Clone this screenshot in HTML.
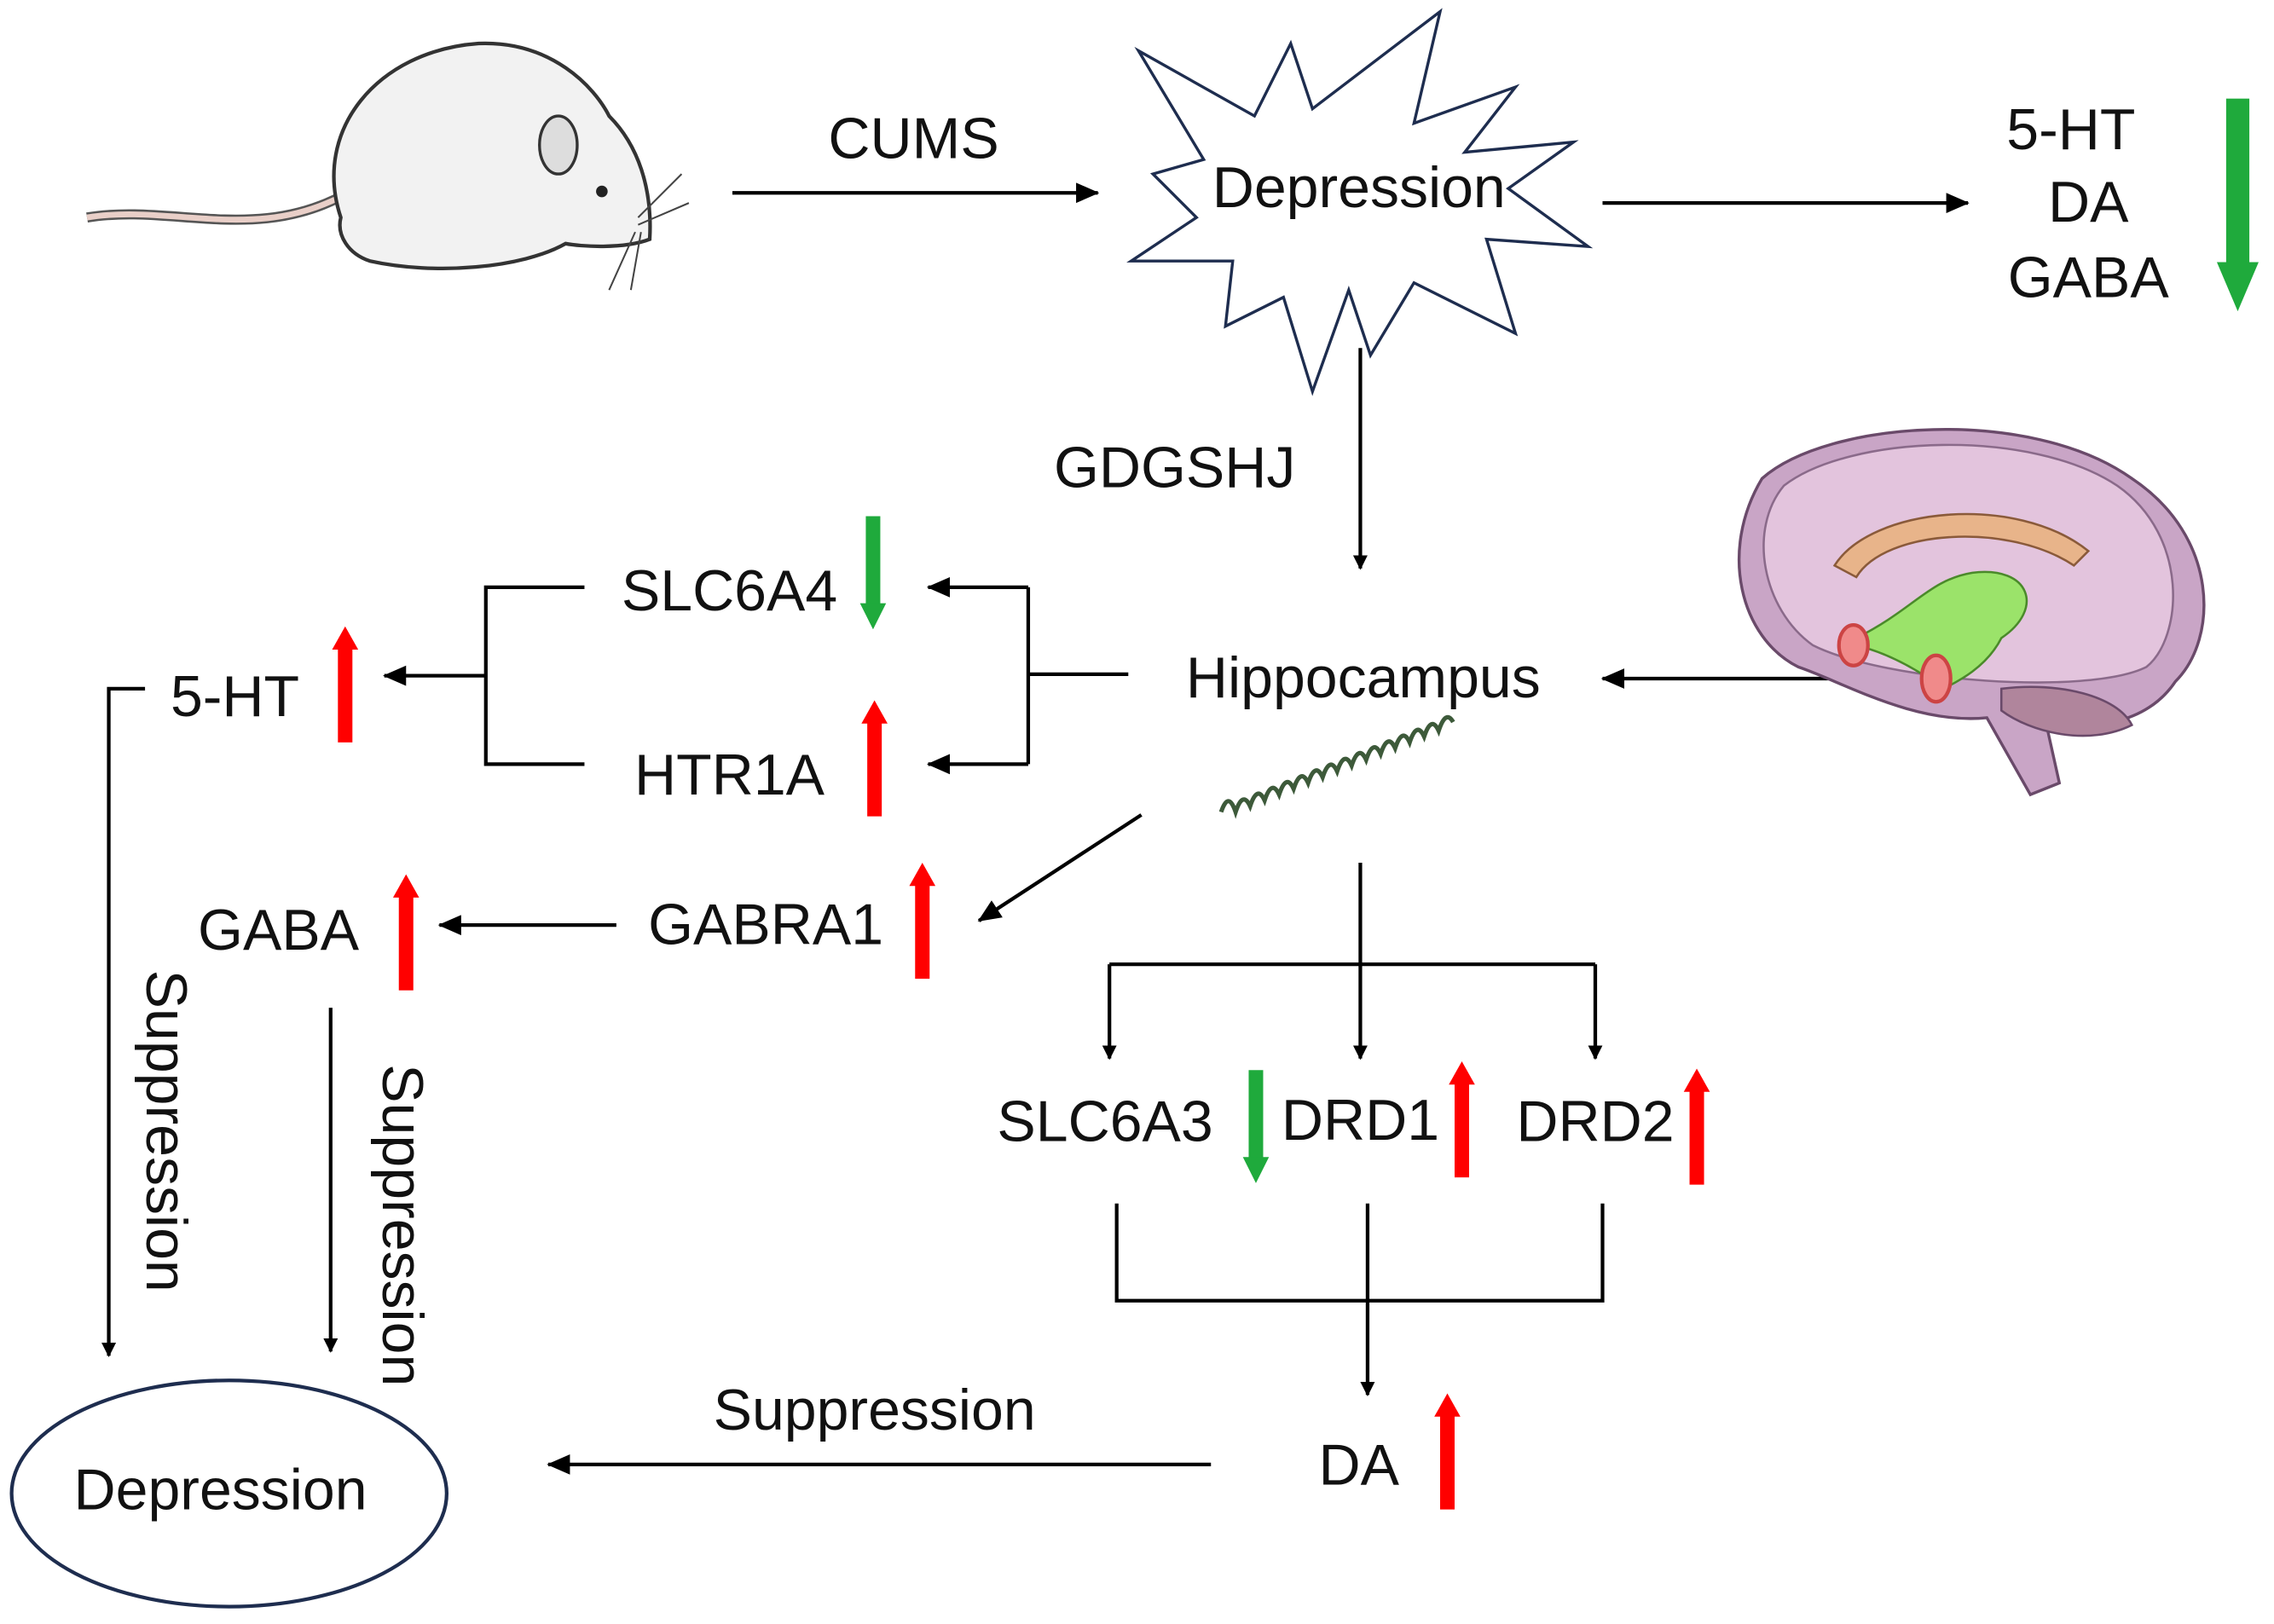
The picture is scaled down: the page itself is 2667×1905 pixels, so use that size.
<!DOCTYPE html>
<html><head><meta charset="utf-8"><style>
html,body{margin:0;padding:0;background:#fff;}
svg{display:block;}
text{font-family:"Liberation Sans",Arial,sans-serif;fill:#111;}
</style></head><body>
<svg width="2667" height="1905" viewBox="0 0 1568 1120" xmlns="http://www.w3.org/2000/svg">
<defs>
<marker id="ah" markerWidth="10" markerHeight="10" refX="9" refY="5" orient="auto" markerUnits="userSpaceOnUse">
<path d="M0,0 L10,5 L0,10 z" fill="#000"/></marker>
<marker id="ahb" markerWidth="16" markerHeight="14" refX="15" refY="7" orient="auto" markerUnits="userSpaceOnUse">
<path d="M0,0 L16,7 L0,14 z" fill="#000"/></marker>
<g id="up"><rect x="-5" y="14" width="10" height="66" fill="#f00"/><path d="M-9,16 L0,0 L9,16 z" fill="#f00"/></g>
<g id="dn"><rect x="-5" y="0" width="10" height="62" fill="#1faa3c"/><path d="M-9,60 L0,78 L9,60 z" fill="#1faa3c"/></g>
</defs>
<g stroke="#000" stroke-width="2.5" fill="none">
<path d="M60,150 C120,140 180,170 245,130" stroke="#555" stroke-width="7"/>
<path d="M60,150 C120,140 180,170 245,130" stroke="#e9cfc8" stroke-width="4"/>
<path d="M235,150 C215,90 260,35 330,30 C380,28 410,60 420,80 C440,100 450,130 448,165 C430,172 400,170 390,168 C360,185 300,190 255,180 C240,175 232,162 235,150 z" fill="#f2f2f2" stroke="#333"/>
<ellipse cx="385" cy="100" rx="13" ry="20" fill="#ddd" stroke="#333" stroke-width="2"/>
<circle cx="415" cy="132" r="4" fill="#222" stroke="none"/>
<path d="M440,150 L470,120 M440,155 L475,140 M438,160 L420,200 M442,160 L435,200" stroke="#444" stroke-width="1.2"/>
<path d="M785,35 L865,80 L890,30 L905,75 L993,8 L975,85 L1045,60 L1010,105 L1085,98 L1040,130 L1095,170 L1025,165 L1045,230 L975,195 L945,245 L930,200 L905,270 L885,205 L845,225 L850,180 L780,180 L825,150 L795,120 L830,110 L785,35 z" stroke="#1e2d4f" stroke-width="2" fill="#fff"/>
<line x1="505" y1="133" x2="757" y2="133" marker-end="url(#ahb)"/>
<line x1="1105" y1="140" x2="1357" y2="140" marker-end="url(#ahb)"/>
<line x1="938" y1="240" x2="938" y2="392" marker-end="url(#ah)"/>
<line x1="1355" y1="468" x2="1105" y2="468" marker-end="url(#ahb)"/>
<path d="M778,465 L709,465 M709,405 L709,527"/>
<line x1="709" y1="405" x2="640" y2="405" marker-end="url(#ahb)"/>
<line x1="709" y1="527" x2="640" y2="527" marker-end="url(#ahb)"/>
<path d="M403,405 L335,405 L335,527 L403,527"/>
<line x1="335" y1="466" x2="265" y2="466" marker-end="url(#ahb)"/>
<path d="M100,475 L75,475 L75,935" marker-end="url(#ah)"/>
<line x1="425" y1="638" x2="303" y2="638" marker-end="url(#ahb)"/>
<line x1="787" y1="562" x2="675" y2="635" marker-end="url(#ahb)"/>
<line x1="228" y1="695" x2="228" y2="932" marker-end="url(#ah)"/>
<line x1="938" y1="595" x2="938" y2="730" marker-end="url(#ah)"/>
<path d="M765,665 L1100,665"/>
<line x1="765" y1="665" x2="765" y2="730" marker-end="url(#ah)"/>
<line x1="1100" y1="665" x2="1100" y2="730" marker-end="url(#ah)"/>
<path d="M770,830 L770,897 L1105,897 L1105,830"/>
<line x1="943" y1="830" x2="943" y2="962" marker-end="url(#ah)"/>
<line x1="835" y1="1010" x2="378" y2="1010" marker-end="url(#ahb)"/>
<ellipse cx="158" cy="1030" rx="150" ry="78" stroke="#1e2d4f"/>
<path d="M842,560 q5,-15 10,0 q5,-15 10,-4 q5,-15 10,-4 q5,-15 10,-4 q5,-15 10,-4 q5,-15 10,-4 q5,-15 10,-4 q5,-15 10,-4 q5,-15 10,-4 q5,-15 10,-4 q5,-15 10,-4 q5,-15 10,-4 q5,-15 10,-4 q5,-15 10,-4 q5,-15 10,-4 q5,-15 10,-6" stroke="#3d5a3a" stroke-width="3"/>
<path d="M1215,330 C1260,290 1400,280 1470,330 C1530,370 1530,440 1500,470 C1480,500 1440,505 1410,495 L1420,540 L1400,548 L1370,495 C1320,500 1270,470 1240,460 C1200,440 1185,380 1215,330 z" fill="#c9a5c6" stroke="#6a4a6a" stroke-width="2"/>
<path d="M1230,335 C1275,300 1400,295 1460,335 C1510,370 1505,440 1480,460 C1440,480 1300,470 1250,445 C1215,420 1205,365 1230,335 z" fill="#e3c4dd" stroke="#8a6a8a" stroke-width="1.5"/>
<path d="M1265,390 C1290,350 1390,340 1440,380 L1430,390 C1385,360 1300,365 1280,398 z" fill="#e8b48a" stroke="#8a5a3a" stroke-width="1.5"/>
<path d="M1280,440 C1320,420 1330,400 1360,395 C1400,390 1410,420 1380,440 C1370,460 1350,470 1340,475 C1320,460 1300,450 1280,445 z" fill="#9be36a" stroke="#4a8a2a" stroke-width="1.5"/>
<ellipse cx="1278" cy="445" rx="10" ry="14" fill="#f08a8a" stroke="#c44"/>
<ellipse cx="1335" cy="468" rx="10" ry="16" fill="#f08a8a" stroke="#c44"/>
<path d="M1380,475 C1420,470 1460,480 1470,500 C1440,515 1400,505 1380,490 z" fill="#b0859c" stroke="#6a4a6a" stroke-width="1.5"/>
</g>
<g font-size="40" text-anchor="middle">
<text x="630" y="109">CUMS</text>
<text x="937" y="143">Depression</text>
<text x="1428" y="103">5-HT</text>
<text x="1440" y="153">DA</text>
<text x="1440" y="205">GABA</text>
<text x="810" y="336">GDGSHJ</text>
<text x="940" y="481">Hippocampus</text>
<text x="503" y="421">SLC6A4</text>
<text x="503" y="548">HTR1A</text>
<text x="162" y="494">5-HT</text>
<text x="192" y="655">GABA</text>
<text x="528" y="651">GABRA1</text>
<text x="762" y="787">SLC6A3</text>
<text x="938" y="786">DRD1</text>
<text x="1100" y="787">DRD2</text>
<text x="937" y="1024">DA</text>
<text x="603" y="986">Suppression</text>
<text x="152" y="1041">Depression</text>
<text transform="translate(101,780) rotate(90)">Suppression</text>
<text transform="translate(264,845) rotate(90)">Suppression</text>
</g>
<use href="#dn" transform="translate(1543,68) scale(1.6,1.88)"/>
<use href="#dn" x="602" y="356"/>
<use href="#up" x="603" y="483"/>
<use href="#up" x="238" y="432"/>
<use href="#up" x="280" y="603"/>
<use href="#up" x="636" y="595"/>
<use href="#dn" x="866" y="738"/>
<use href="#up" x="1008" y="732"/>
<use href="#up" x="1170" y="737"/>
<use href="#up" x="998" y="961"/>
</svg>
</body></html>
